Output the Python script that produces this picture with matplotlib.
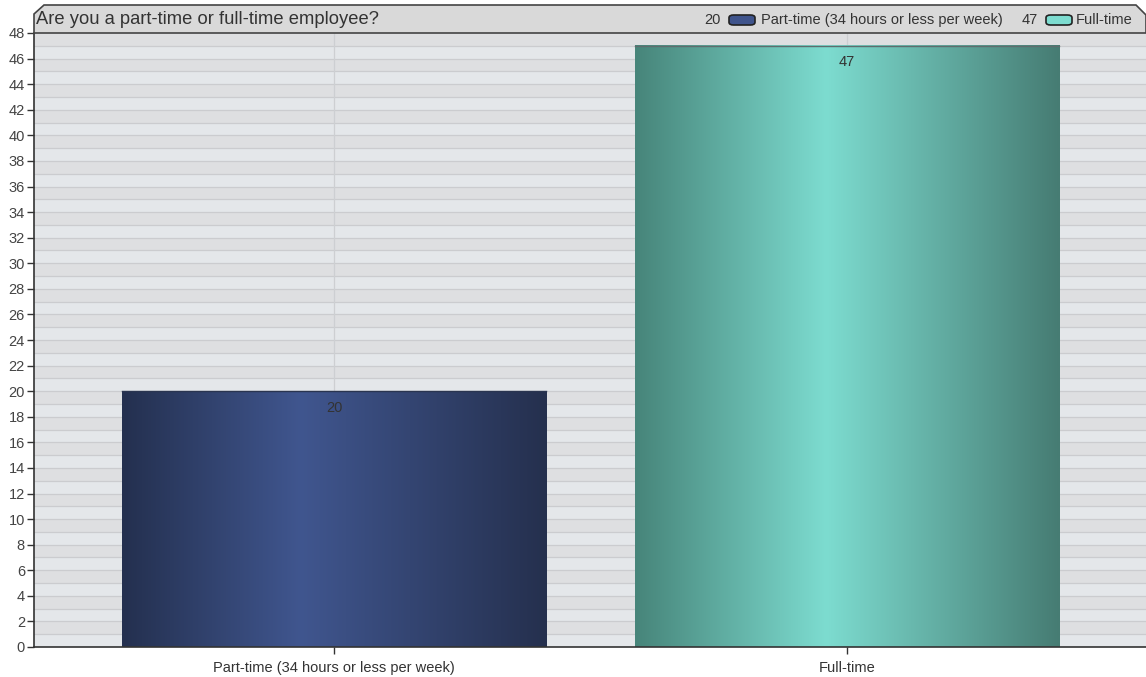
import matplotlib
matplotlib.use("Agg")
import matplotlib.pyplot as plt
import numpy as np
from matplotlib.patches import Polygon, FancyBboxPatch
from matplotlib.colors import LinearSegmentedColormap

plt.rcParams['font.family'] = ['Liberation Sans', 'DejaVu Sans']

title = "Are you a part-time or full-time employee?"
categories = ["Part-time (34 hours or less per week)", "Full-time"]
values = [20, 47]
yticks = list(range(0, 49, 2))

W, H = 1146, 677
fig = plt.figure(figsize=(W / 100, H / 100), dpi=100)
fig.patch.set_facecolor("white")

def fx(px):
    return px / W

def fy(py):
    return 1 - py / H

ax = fig.add_axes([fx(34), fy(647), fx(1146) - fx(34), fy(33) - fy(647)])
ax.set_facecolor("#e4e7ea")
ax.set_xlim(-0.585, 1.583)
ax.set_ylim(0, 48)

# alternating bands
for y in range(0, 48):
    if y % 2 == 1:
        ax.axhspan(y, y + 1, color="#dedfe1", zorder=0, lw=0)
for y in range(1, 48):
    ax.axhline(y, color="#cbcccf", lw=0.9, zorder=0.5)
for x in range(len(categories)):
    ax.axvline(x, color="#cdcfd2", lw=0.9, zorder=0.5)

bar_w = 0.828
bars = ax.bar(range(len(categories)), values, width=bar_w, color="none", zorder=2,
              edgecolor="none")

cmaps = [
    LinearSegmentedColormap.from_list("pt", [(0, "#24304f"), (0.42, "#40568f"), (1, "#25304e")]),
    LinearSegmentedColormap.from_list("ft", [(0, "#47857a"), (0.45, "#7ddcd0"), (1, "#467c73")]),
]
grad = np.linspace(0, 1, 256).reshape(1, -1)
for rect, cm, v in zip(bars, cmaps, values):
    x0, w, h = rect.get_x(), rect.get_width(), rect.get_height()
    ax.imshow(grad, cmap=cm, aspect="auto", extent=[x0, x0 + w, 0, h], zorder=2,
              interpolation="bicubic")
    ax.plot([x0, x0 + w], [h, h], color="#5d6d6e" if v > 30 else "#2a3550", lw=1, zorder=3)
    ax.text(x0 + w / 2, h - 0.75, str(v), ha="center", va="top", fontsize=10.5,
            color="#333333", zorder=4)
ax.set_xlim(-0.585, 1.583)
ax.set_ylim(0, 48)

ax.set_yticks(yticks)
ax.set_yticklabels([str(t) for t in yticks], fontsize=10.5, color="#444444")
ax.set_xticks(range(len(categories)))
ax.set_xticklabels(categories, fontsize=10.5, color="#333333")
ax.tick_params(axis="both", length=5, width=1, color="#333333", pad=1.5)
ax.tick_params(axis="x", pad=5)
for s in ["top", "right"]:
    ax.spines[s].set_visible(False)
for s in ["left", "bottom"]:
    ax.spines[s].set_color("#333333")
    ax.spines[s].set_linewidth(1.2)

# header band
pts = [(34, 33), (34, 14), (44, 5), (1136, 5), (1146, 15), (1146, 33)]
hdr = Polygon([(fx(a), fy(b)) for a, b in pts], closed=True, transform=fig.transFigure,
              facecolor="#d9d9d9", edgecolor="#444444", lw=1.2, zorder=5)
fig.add_artist(hdr)
fig.text(fx(36), fy(19.5), title, fontsize=13.2, color="#333333", ha="left", va="center",
         zorder=8)

# legend in header
swatch_cols = ["#3f548c", "#7ddcd0"]
leg_items = [(721, 729, 761, values[0], categories[0]), (1038, 1046, 1076, values[1], categories[1])]
for (nx, sx, tx, v, lab), col in zip(leg_items, swatch_cols):
    fig.text(fx(nx), fy(20), str(v), fontsize=10.5, color="#333333", ha="right", va="center",
             zorder=8)
    sw = FancyBboxPatch((fx(sx), fy(25)), fx(26), fy(15) - fy(25),
                        boxstyle="round,pad=0,rounding_size=0.004", transform=fig.transFigure,
                        facecolor=col, edgecolor="#222222", lw=1.2, zorder=7)
    fig.add_artist(sw)
    fig.text(fx(tx), fy(20), lab, fontsize=10.5, color="#333333", ha="left", va="center",
             zorder=8)

fig.savefig("out.png", dpi=100)
